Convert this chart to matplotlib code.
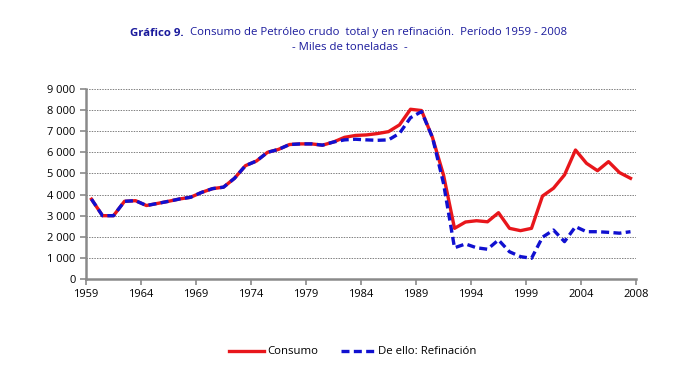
import matplotlib
matplotlib.use("Agg")
import matplotlib.pyplot as plt
from matplotlib.ticker import FuncFormatter

years = list(range(1959, 2009))
consumo = [3780, 3000, 3000, 3680, 3710, 3480, 3580, 3680, 3790, 3870,
           4100, 4280, 4350, 4770, 5370, 5590, 6000, 6140, 6370, 6400,
           6400, 6340, 6490, 6710, 6800, 6825, 6890, 6980, 7300, 8040,
           7980, 6700, 4930, 2400, 2700, 2760, 2710, 3140, 2400, 2290,
           2400, 3930, 4300, 4930, 6110, 5480, 5130, 5560, 5040, 4770]
refinacion = [3780, 3000, 3000, 3680, 3710, 3480, 3580, 3680, 3790, 3870,
              4100, 4280, 4350, 4770, 5370, 5590, 6000, 6140, 6370, 6400,
              6400, 6340, 6490, 6590, 6620, 6590, 6570, 6590, 6900, 7640,
              7930, 6700, 4530, 1480, 1660, 1480, 1410, 1850, 1290, 1060,
              980, 1980, 2320, 1770, 2480, 2240, 2240, 2210, 2170, 2240]
xtick_labels = ["1959", "1964", "1969", "1974", "1979", "1984", "1989",
                "1994", "1999", "2004", "2008"]

plt.rcParams['font.family'] = ['Open Sans', 'DejaVu Sans']

fig = plt.figure(figsize=(6.96, 3.77), dpi=100)
ax = fig.add_axes([86/696, 1 - 279/377, 550/696, 190/377])

x = [i + 0.5 for i in range(len(years))]
ax.plot(x, consumo, color='#E8161B', lw=2.4, label='Consumo', solid_joinstyle='round')
ax.plot(x, refinacion, color='#1010D0', lw=2.4, ls=(0, (2.4, 1.3)), label='De ello: Refinación')

ax.set_xlim(0, 50)
ax.set_ylim(0, 9000)
ax.set_yticks(range(0, 9001, 1000))
ax.yaxis.set_major_formatter(FuncFormatter(lambda v, p: f"{int(v):,}".replace(",", " ")))
ax.set_xticks([0, 5, 10, 15, 20, 25, 30, 35, 40, 45, 50])
ax.set_xticklabels(xtick_labels)

ax.grid(axis='y', color='#808080', ls=(0, (1.5, 1.2)), lw=0.7)
ax.set_axisbelow(True)
for s in ['top', 'right']:
    ax.spines[s].set_visible(False)
for s in ['left', 'bottom']:
    ax.spines[s].set_color('#8a8a8a')
    ax.spines[s].set_linewidth(1.8)
ax.tick_params(axis='both', colors='#8a8a8a', labelcolor='black', labelsize=8, length=4, width=1.2)
ax.tick_params(axis='x', pad=3)

title_color = '#1A1A9C'
fig.text(184/696, 1 - 33/377, "Gráfico 9.", ha='right', va='center', fontsize=8.2,
         fontweight='bold', color=title_color)
fig.text(190/696, 1 - 33/377, "Consumo de Petróleo crudo  total y en refinación.  Período 1959 - 2008",
         ha='left', va='center', fontsize=8.2, color=title_color)
fig.text(0.503, 1 - 47/377, "- Miles de toneladas  -", ha='center', va='center', fontsize=8.2, color=title_color)

fig.legend(loc='center', bbox_to_anchor=(353/696, 1 - 352/377), ncol=2, frameon=False,
           fontsize=8.2, handlelength=3.0, handletextpad=0.3, columnspacing=2.0)

fig.savefig('out.png', dpi=100)
